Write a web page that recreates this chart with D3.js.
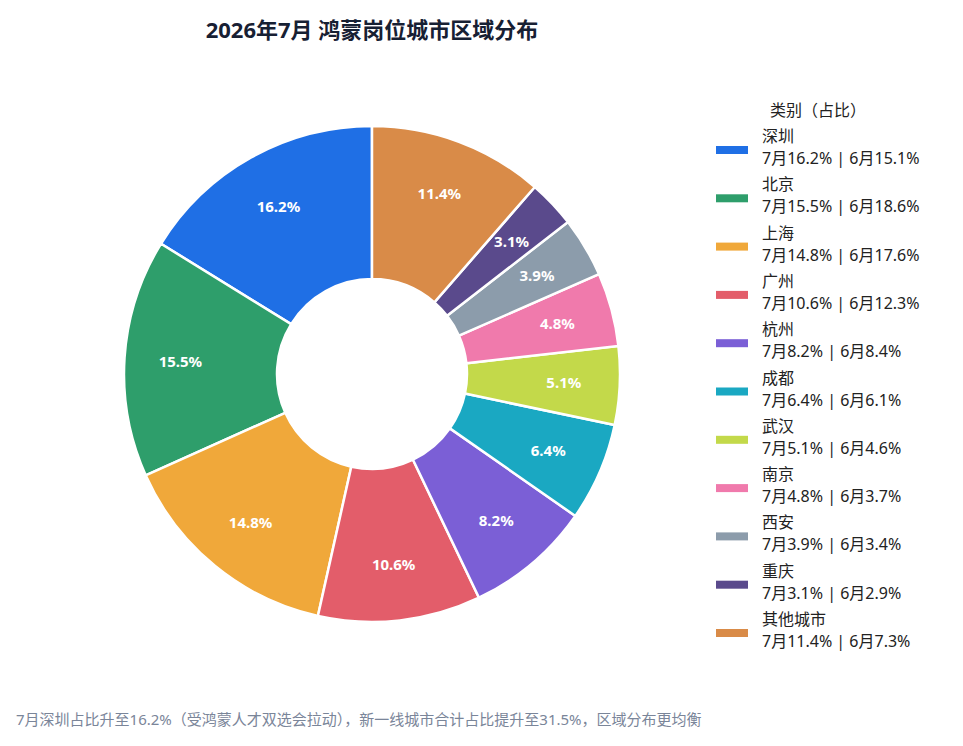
<!DOCTYPE html>
<html>
<head>
<meta charset="utf-8">
<script src="https://cdn.jsdelivr.net/npm/d3@7.9.0/dist/d3.min.js"></script>
<style>
  body { margin: 0; background: #fff; font-family: "Noto Sans", "Noto Sans CJK SC", sans-serif; }
</style>
</head>
<body>
<script>
const cities = ["深圳", "北京", "上海", "广州", "杭州", "成都", "武汉", "南京", "西安", "重庆", "其他城市"];
const julyShare = [16.2, 15.5, 14.8, 10.6, 8.2, 6.4, 5.1, 4.8, 3.9, 3.1, 11.4];
const juneShare = [15.1, 18.6, 17.6, 12.3, 8.4, 6.1, 4.6, 3.7, 3.4, 2.9, 7.3];
const colors = ["#1f6fe5", "#2e9e6b", "#f0a83a", "#e35d6a", "#7b5fd6", "#1aa8c2",
                "#c3d94a", "#f07aac", "#8c9cab", "#5a4a8c", "#d98b48"];

const width = 963, height = 746;
const cx = 372, cy = 374, outerR = 248, innerR = 95;

const svg = d3.select("body").append("svg")
    .attr("width", width)
    .attr("height", height)
    .attr("viewBox", [0, 0, width, height]);

svg.append("text")
    .attr("x", 372).attr("y", 38)
    .attr("text-anchor", "middle")
    .attr("font-size", 22).attr("font-weight", "bold")
    .attr("fill", "#172033")
    .text("2026年7月 鸿蒙岗位城市区域分布");

const data = cities.map((c, i) => ({city: c, jul: julyShare[i], jun: juneShare[i], color: colors[i]}));

// counter-clockwise from 12 o'clock
const pie = d3.pie().sort(null).value(d => d.jul).startAngle(0).endAngle(-2 * Math.PI);
const arc = d3.arc().innerRadius(innerR).outerRadius(outerR);
const labelArc = d3.arc().innerRadius(192).outerRadius(192);

const g = svg.append("g").attr("transform", `translate(${cx},${cy})`);

g.selectAll("path")
  .data(pie(data))
  .join("path")
    .attr("d", arc)
    .attr("fill", d => d.data.color)
    .attr("stroke", "#fff")
    .attr("stroke-width", 2.5);

g.selectAll("text")
  .data(pie(data))
  .join("text")
    .attr("transform", d => `translate(${labelArc.centroid(d)})`)
    .attr("text-anchor", "middle")
    .attr("dy", "0.35em")
    .attr("font-size", 15).attr("font-weight", "bold")
    .attr("fill", "#fff")
    .text(d => d.data.jul.toFixed(1) + "%");

// legend
const legend = svg.append("g");
legend.append("text")
    .attr("x", 770).attr("y", 116)
    .attr("font-size", 16).attr("fill", "#222")
    .text("类别（占比）");

const item = legend.selectAll("g.item")
  .data(data)
  .join("g")
    .attr("class", "item")
    .attr("transform", (d, i) => `translate(0,${150 + i * 48.3})`);

item.append("rect")
    .attr("x", 716).attr("y", -4)
    .attr("width", 32).attr("height", 8)
    .attr("fill", d => d.color);

item.append("text")
    .attr("x", 762).attr("y", -8)
    .attr("font-size", 16).attr("fill", "#222")
    .text(d => d.city);

item.append("text")
    .attr("x", 762).attr("y", 14)
    .attr("font-size", 16).attr("fill", "#222")
    .text(d => `7月${d.jul.toFixed(1)}% | 6月${d.jun.toFixed(1)}%`);

svg.append("text")
    .attr("x", 16).attr("y", 725)
    .attr("font-size", 15).attr("fill", "#7a8599")
    .text("7月深圳占比升至16.2%（受鸿蒙人才双选会拉动），新一线城市合计占比提升至31.5%，区域分布更均衡");
</script>
</body>
</html>
